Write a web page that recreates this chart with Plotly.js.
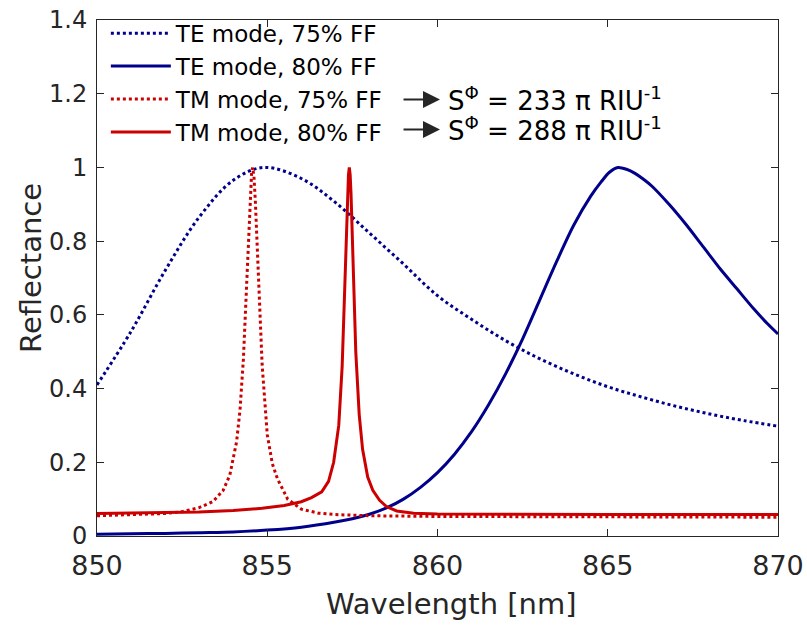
<!DOCTYPE html>
<html><head><meta charset="utf-8">
<script src="https://cdn.plot.ly/plotly-3.0.1.min.js"></script>
<style>html,body{margin:0;padding:0;background:#fff}#chart{width:807px;height:628px}</style>
</head><body><div id="chart"></div>
<script>
// Wavelength (nm) and reflectance values
const teFF75_x = [850, 851, 852, 853, 854, 854.9, 856, 857, 858, 859, 860, 861, 862, 863, 864, 865, 866, 867, 868, 869, 870];
const teFF75_y = [0.41, 0.555, 0.72, 0.865, 0.965, 1.0, 0.97, 0.905, 0.822, 0.738, 0.652, 0.588, 0.53, 0.481, 0.44, 0.405, 0.377, 0.352, 0.331, 0.313, 0.298];

const teFF80_x = [850, 851, 852, 853, 854, 855, 856, 857, 857.5, 858, 858.5, 859, 859.5, 860, 860.5, 861, 861.5, 862, 862.5, 863, 863.5, 864, 864.5, 864.8, 865.05, 865.3, 865.55, 865.8, 866.05, 866.3, 866.8, 867.3, 867.8, 868.3, 868.8, 869.3, 869.7, 870];
const teFF80_y = [0.005, 0.006, 0.007, 0.009, 0.011, 0.016, 0.024, 0.038, 0.047, 0.059, 0.076, 0.1, 0.132, 0.172, 0.222, 0.283, 0.356, 0.44, 0.535, 0.64, 0.745, 0.843, 0.922, 0.96, 0.987, 1.0, 0.995, 0.984, 0.968, 0.949, 0.9, 0.845, 0.785, 0.725, 0.67, 0.615, 0.575, 0.548];

const tmFF75_x = [850, 851, 852, 852.5, 853, 853.4, 853.7, 853.9, 854.1, 854.2, 854.3, 854.4, 854.5, 854.54, 854.57, 854.61, 854.65, 854.75, 854.85, 855.0, 855.15, 855.3, 855.6, 856.0, 856.5, 857, 858, 860, 865, 870];
const tmFF75_y = [0.055, 0.057, 0.061, 0.066, 0.077, 0.093, 0.123, 0.165, 0.256, 0.342, 0.481, 0.693, 0.929, 0.985, 1.0, 0.975, 0.909, 0.668, 0.464, 0.275, 0.196, 0.155, 0.100, 0.073, 0.062, 0.058, 0.055, 0.053, 0.052, 0.051];

const tmFF80_x = [850, 851, 852, 853, 854, 854.85, 855.5, 856, 856.3, 856.6, 856.8, 856.95, 857.1, 857.2, 857.3, 857.36, 857.385, 857.41, 857.435, 857.46, 857.52, 857.6, 857.7, 857.8, 857.95, 858.1, 858.3, 858.5, 858.8, 859.3, 860, 862, 865, 870];
const tmFF80_y = [0.061, 0.062, 0.063, 0.065, 0.069, 0.075, 0.083, 0.093, 0.104, 0.12, 0.148, 0.2, 0.3, 0.46, 0.74, 0.93, 0.98, 1.0, 0.98, 0.93, 0.74, 0.5, 0.33, 0.235, 0.16, 0.124, 0.097, 0.08, 0.068, 0.062, 0.06, 0.059, 0.058, 0.058];

const seriesNames = ['TE mode, 75% FF', 'TE mode, 80% FF', 'TM mode, 75% FF', 'TM mode, 80% FF'];
const sensitivityLabels = ['S<sup>Φ</sup> = 233 π RIU<sup>-1</sup>', 'S<sup>Φ</sup> = 288 π RIU<sup>-1</sup>'];
const xTitle = 'Wavelength [nm]';
const yTitle = 'Reflectance';

const BLUE = '#00008b', RED = '#cc0000', INK = '#262626';
const FONT = 'DejaVu Sans, sans-serif';

const traces = [
  {x: teFF75_x, y: teFF75_y, name: seriesNames[0], mode: 'lines', line: {color: BLUE, width: 3, dash: 'dot', shape: 'spline'}},
  {x: teFF80_x, y: teFF80_y, name: seriesNames[1], mode: 'lines', line: {color: BLUE, width: 3, shape: 'spline', smoothing: 0.8}},
  {x: tmFF75_x, y: tmFF75_y, name: seriesNames[2], mode: 'lines', line: {color: RED, width: 3, dash: 'dot'}},
  {x: tmFF80_x, y: tmFF80_y, name: seriesNames[3], mode: 'lines', line: {color: RED, width: 3}}
];

const axisCommon = {
  showline: true, linecolor: INK, linewidth: 1, mirror: 'ticks',
  ticks: 'inside', ticklen: 7, tickcolor: INK, tickwidth: 1,
  showgrid: false, zeroline: false
};

const arrowY = [0.846, 0.788];
const annotations = [
  {xref: 'paper', yref: 'paper', x: 0.52, y: -0.131, xanchor: 'center', yanchor: 'middle', showarrow: false,
   text: xTitle, font: {family: FONT, size: 29, color: INK}},
  {xref: 'paper', yref: 'paper', x: -0.098, y: 0.52, xanchor: 'center', yanchor: 'middle', showarrow: false,
   textangle: -90, text: yTitle, font: {family: FONT, size: 29, color: INK}}
];
arrowY.forEach((yy, i) => {
  annotations.push({xref: 'paper', yref: 'paper', x: 0.5037, y: yy, ax: -38, ay: 0, text: '',
    showarrow: true, arrowhead: 2, arrowsize: 1.7, arrowwidth: 2, arrowcolor: INK});
  annotations.push({xref: 'paper', yref: 'paper', x: 0.5125, y: yy, xanchor: 'left', yanchor: 'middle',
    showarrow: false, text: sensitivityLabels[i], font: {family: FONT, size: 26, color: '#000'}});
});

const layout = {
  width: 807, height: 628,
  margin: {l: 97, r: 29, t: 16, b: 92},
  paper_bgcolor: '#fff', plot_bgcolor: '#fff',
  font: {family: FONT, color: INK},
  showlegend: true,
  legend: {x: 0.013, y: 1.016, xanchor: 'left', yanchor: 'top', bgcolor: 'rgba(255,255,255,0)',
    font: {family: FONT, size: 23, color: '#000'}, itemwidth: 60, tracegroupgap: 0},
  xaxis: Object.assign({}, axisCommon, {range: [850, 870], dtick: 5, tick0: 850, ticklabelstandoff: 6,
    tickfont: {family: FONT, size: 27, color: INK}}),
  yaxis: Object.assign({}, axisCommon, {range: [0, 1.4], dtick: 0.2, tick0: 0, ticklabelstandoff: 4,
    tickfont: {family: FONT, size: 24, color: INK}}),
  annotations: annotations,
  hovermode: false
};

Plotly.newPlot('chart', traces, layout, {displayModeBar: false, staticPlot: true});
</script>
</body></html>
